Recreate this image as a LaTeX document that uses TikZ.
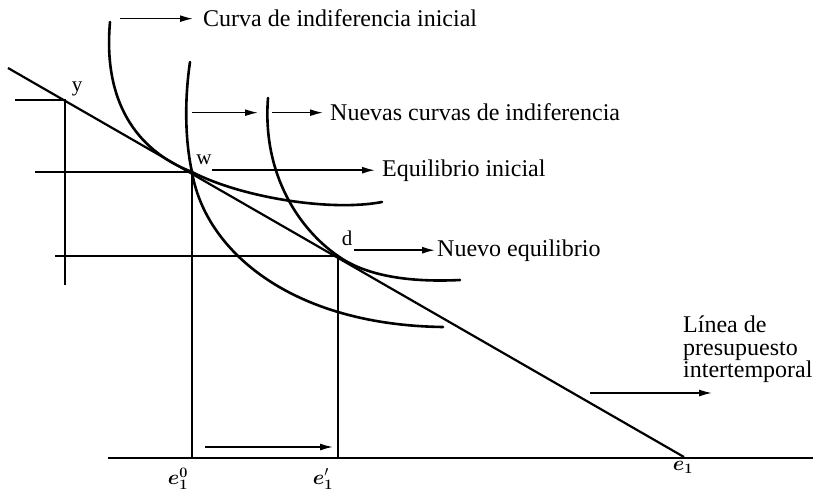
\documentclass[tikz,border=0pt]{standalone}
\usepackage{fontspec}
\setmainfont{Liberation Serif}
\usepackage{bm}
\usetikzlibrary{arrows.meta}
\begin{document}
\begin{tikzpicture}[x=1pt,y=-1pt,
    curve/.style={line width=2.6pt,line cap=round},
    guide/.style={line width=1.5pt},
    arr/.style={line width=1.5pt,-{Latex[length=13pt,width=7pt]}},
    lbl/.style={inner sep=0pt,anchor=base west,font=\fontsize{24}{22.5}\selectfont},
    pt/.style={inner sep=0pt,font=\fontsize{21}{21}\selectfont}]
    \useasboundingbox (0,0) rectangle (817,492);
    % points of the diagram
    \coordinate (b0) at (8,68);
    \coordinate (b1) at (684,457);
    \coordinate (y) at (65,100);
    \coordinate (w) at (192,172);
    \coordinate (d) at (338,256);
    \coordinate (o) at (108,458);
    \coordinate (xe) at (813,458);
    % axis and budget line
    \draw [line width=2.2pt] (o) -- (xe);
    \draw [line width=2.2pt] (b0) -- (b1);
    % guides
    \draw [guide] (15,100) -- (y) -- (65,285);
    \draw [guide] (35,172) -- (w) -- (w |- o);
    \draw [guide] (55,256) -- (d) -- (d |- o);
    % indifference curves
    \draw [curve] (110,22) .. controls (103,100) and (135,150) .. (w)
        .. controls (240,197) and (330,212) .. (382,202);
    \draw [curve] (190,62) .. controls (183,110) and (187,150) .. (w)
        .. controls (205,250) and (290,325) .. (443,327);
    \draw [curve] (268,98) .. controls (262,175) and (300,230) .. (d)
        .. controls (370,279) and (420,282) .. (460,280);
    % point labels
    \node [pt] (ly) at (77,89) {y};
    \node [pt] (lw) at (204,160) {w};
    \node [pt] (ld) at (347,238) {d};
    \node [pt] (e10) at (178,479) {$\bm{e}_{\bm 1}^{\bm 0}$};
    \node [pt] (e1p) at (323,479) {$\bm{e}'_{\bm 1}$};
    \node [pt] (e1) at (683,467) {$\bm{e}_{\bm 1}$};
    % texts
    \node [lbl] (cii) at (203,27) {Curva de indiferencia inicial};
    \node [lbl] (nci) at (330,121) {Nuevas curvas de indiferencia};
    \node [lbl] (eqi) at (382,176) {Equilibrio inicial};
    \node [lbl] (neq) at (437,256) {Nuevo equilibrio};
    \node [lbl,align=left,anchor=north west] (lin) at (683,316) {Línea de\\presupuesto\\intertemporal};
    % arrows
    \draw [arr] (cii.west) ++(-83,0) -- ([xshift=-10pt]cii.west);
    \draw [arr] (nci.west) ++(-138,0) -- ++(66,0);
    \draw [arr] (nci.west) ++(-58,0) -- ([xshift=-7pt]nci.west);
    \draw [arr] (eqi.west) ++(-170,0) -- ([xshift=-7pt]eqi.west);
    \draw [arr] (neq.west) ++(-83,0) -- ([xshift=-2pt]neq.west);
    \draw [arr] (590,393) -- (712,393);
    \draw [arr] (205,447) -- (333,447);
\end{tikzpicture}
\end{document}
